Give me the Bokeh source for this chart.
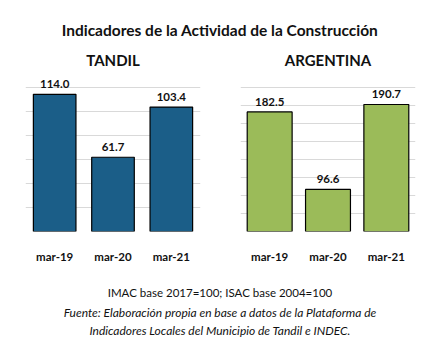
from bokeh.plotting import figure
from bokeh.layouts import column, row
from bokeh.models import Range1d, FactorRange, FixedTicker, ColumnDataSource
from bokeh.core.properties import value
from bokeh.embed import file_html
from bokeh.resources import INLINE

# ---------------- data ----------------
categories = ["mar-19", "mar-20", "mar-21"]
tandil_values = [114.0, 61.7, 103.4]
argentina_values = [182.5, 96.6, 190.7]
tandil_ticks = [0, 20, 40, 60, 80, 100, 120]
argentina_ticks = [50, 70, 90, 110, 130, 150, 170, 190, 210]

title_text = "Indicadores de la Actividad de la Construcción"
note_text = "IMAC base 2017=100; ISAC base 2004=100"
source_lines = ["Fuente: Elaboración propia en base a datos de la Plataforma de",
                "Indicadores Locales del Municipio de Tandil e INDEC."]

FONT = "Lato"
W = 439
HEADER_H = 45
PANEL_H = 220
FOOTER_H = 342 - HEADER_H - PANEL_H
BOTTOM_BORDER = 32
FRAME_H = PANEL_H - BOTTOM_BORDER          # frame spans page y 45..233
TOP_GRID_PAGE_Y = 87                        # top gridline position (page)


def blank(width, height, yr):
    p = figure(width=width, height=height, x_range=Range1d(0, 1), y_range=yr,
               output_backend="svg", toolbar_location=None, min_border=0)
    p.axis.visible = False
    p.grid.visible = False
    p.outline_line_color = None
    return p


# ---------------- header ----------------
header = blank(W, HEADER_H, Range1d(HEADER_H, 0))
header.text(x=[0.5], y=[29], text=[title_text], text_font=value(FONT),
            text_font_size="15.5px", text_font_style="bold", text_color="#111111",
            text_align="center", text_baseline="middle")


def panel(name, vals, ticks, color, width, border_left, border_right, bar_w):
    lo, hi = ticks[0], ticks[-1]
    ppu = (FRAME_H - (TOP_GRID_PAGE_Y - HEADER_H)) / (hi - lo)
    y_end = hi + (TOP_GRID_PAGE_Y - HEADER_H) / ppu
    p = figure(width=width, height=PANEL_H, x_range=FactorRange(*categories, range_padding=0),
               y_range=Range1d(lo, y_end), output_backend="svg", toolbar_location=None,
               min_border_left=border_left, min_border_right=border_right,
               min_border_top=0, min_border_bottom=BOTTOM_BORDER)
    p.outline_line_color = None
    p.yaxis.visible = False
    p.xgrid.visible = False
    p.ygrid.ticker = FixedTicker(ticks=ticks)
    p.ygrid.grid_line_color = "#d9d9d9"
    p.ygrid.grid_line_width = 1
    src = ColumnDataSource(dict(cat=categories, val=vals,
                                lab=[f"{v:.1f}" for v in vals]))
    p.vbar(x="cat", top="val", bottom=lo, width=bar_w, source=src,
           fill_color=color, line_color="#000000", line_width=1.2)
    p.text(x="cat", y="val", text="lab", source=src, y_offset=-6,
           text_font=value(FONT), text_font_size="11.5px", text_font_style="bold",
           text_color="#111111", text_align="center", text_baseline="bottom")
    # panel subtitle
    sub_y = hi + (TOP_GRID_PAGE_Y - 60) / ppu
    p.text(x=[categories[1]], y=[sub_y], text=[name], text_font=value(FONT),
           text_font_size="15px", text_font_style="bold", text_color="#111111",
           text_align="center", text_baseline="middle")
    ax = p.xaxis[0]
    ax.axis_line_color = None
    ax.major_tick_line_color = None
    ax.minor_tick_line_color = None
    ax.major_label_standoff = 12
    ax.major_label_text_font = FONT
    ax.major_label_text_font_size = "11.5px"
    ax.major_label_text_font_style = "bold"
    ax.major_label_text_color = "#111111"
    return p


left = panel("TANDIL", tandil_values, tandil_ticks, "#1b5e88", 219, 25, 19, 0.73)
right = panel("ARGENTINA", argentina_values, argentina_ticks, "#9bbb59", 220, 21, 24, 0.77)

# ---------------- footer ----------------
footer = blank(W, FOOTER_H, Range1d(FOOTER_H, 0))
footer.text(x=[0.5], y=[26.7], text=[note_text], text_font=value(FONT),
            text_font_size="11.5px", text_color="#111111",
            text_align="center", text_baseline="middle")
footer.text(x=[0.5, 0.5], y=[47.3, 65], text=source_lines, text_font=value(FONT),
            text_font_size="12px", text_font_style="italic", text_color="#111111",
            text_align="center", text_baseline="middle")

layout = column(header, row(left, right, spacing=0), footer, spacing=0)
open("out.html", "w").write(file_html(layout, INLINE))
